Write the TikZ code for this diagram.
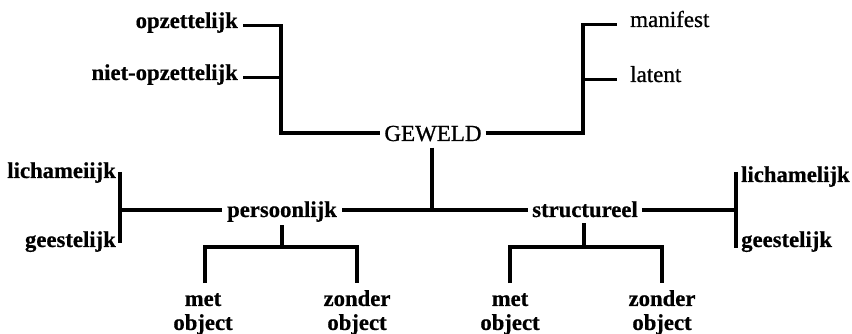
\documentclass[tikz,border=0pt]{standalone}
\usepackage{fontspec}
\setmainfont{Liberation Serif}[BoldFeatures={FakeBold=0.6}]
\newfontfamily\medfont{Liberation Serif}[FakeBold=0.9]
\usetikzlibrary{calc}
\begin{document}
\begin{tikzpicture}[x=1pt,y=-1pt,
 ln/.style={line width=3.4pt},
 lab/.style={inner sep=0pt,font=\bfseries\fontsize{22.7}{24}\selectfont},
 reg/.style={inner sep=0pt,font=\medfont\fontsize{23}{25}\selectfont},
 two/.style={lab,align=center,anchor=north}]
\fill[white] (0,0) rectangle (852,334);
\useasboundingbox (0,0) rectangle (852,334);
\node[lab,anchor=base east] (opz) at (238,28) {opzettelijk};
\node[lab,anchor=base east] (nopz) at (238,80) {niet-opzettelijk};
\node[reg,anchor=base] (gew) at (433,141) {GEWELD};
\node[reg,anchor=base west] (man) at (630,27) {manifest};
\node[reg,anchor=base west] (lat) at (630,82) {latent};
\node[lab,anchor=base] (pers) at (282,217) {persoonlijk};
\node[lab,anchor=base] (str) at (585,217) {structureel};
\node[lab,anchor=base east] (lichL) at (116,178) {lichameiijk};
\node[lab,anchor=base east] (geeL) at (116,247) {geestelijk};
\node[lab,anchor=base west] (lichR) at (741,182) {lichamelijk};
\node[lab,anchor=base west] (geeR) at (741,247) {geestelijk};
\node[two] (mP) at (203,290) {\vphantom{d}met\\object};
\node[two] (zP) at (357,290) {zonder\\object};
\node[two] (mS) at (510,290) {\vphantom{d}met\\object};
\node[two] (zS) at (662,290) {zonder\\object};

\coordinate (jGL) at (281,133);
\coordinate (jGR) at (583,133);
\coordinate (jG) at (432,210);
\coordinate (jL) at (120,210);
\coordinate (jR) at (736,210);
\coordinate (jP) at (282,247);
\coordinate (jS) at (584,247);

\draw[ln] ($(opz.mid east)+(5,0)$) -| (jGL) -- ($(jGL -| gew.west)+(-4,0)$);
\draw[ln] ($(nopz.mid east)+(5,0)$) -- (nopz.mid east -| jGL);
\draw[ln] ($(jGR -| gew.east)+(4,0)$) -- (jGR) |- ($(man.mid west)+(-13,0)$);
\draw[ln] (lat.mid west -| jGR) -- ($(lat.mid west)+(-13,0)$);
\draw[ln] ($(jG |- gew.south)+(0,6)$) -- (jG);

\draw[ln] ($(pers.west |- jG)+(-5,0)$) -- (jL);
\draw[ln] ($(pers.east |- jG)+(5,0)$) -- ($(str.west |- jG)+(-4,0)$);
\draw[ln] ($(str.east |- jG)+(4,0)$) -- (jR);
\draw[ln] ($(jL)+(0,-38)$) -- ($(jL)+(0,33)$);
\draw[ln] ($(jR)+(0,-38)$) -- ($(jR)+(0,38)$);

\draw[ln] ($(jP |- pers.south)+(0,3)$) -- (jP);
\draw[ln] ($(mP.north)+(2,-7)$) |- (jP) -| ($(zP.north)+(0,-7)$);
\draw[ln] ($(jS |- str.south)+(0,6)$) -- (jS);
\draw[ln] ($(mS.north)+(0,-7)$) |- (jS) -| ($(zS.north)+(0,-7)$);
\end{tikzpicture}
\end{document}
